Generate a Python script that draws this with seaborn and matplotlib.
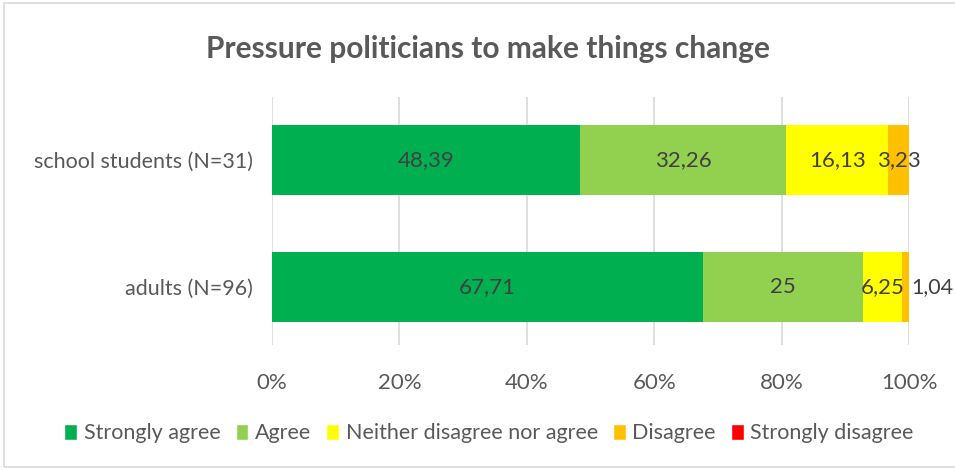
import numpy as np
import pandas as pd
import matplotlib
matplotlib.use("Agg")
import matplotlib.pyplot as plt
from matplotlib.patches import Patch, Rectangle
import seaborn as sns

# -------------------------
# Data (percentages)
# -------------------------
groups = ["school students (N=31)", "adults (N=96)"]
answers = ["Strongly agree", "Agree", "Neither disagree nor agree",
           "Disagree", "Strongly disagree"]
strongly_agree = [48.39, 67.71]
agree = [32.26, 25]
neither = [16.13, 6.25]
disagree = [3.23, 1.04]
strongly_disagree = [0, 0]
colors = ["#00B050", "#92D050", "#FFFF00", "#FFC000", "#FF0000"]

df = pd.DataFrame({
    "group": groups,
    answers[0]: strongly_agree,
    answers[1]: agree,
    answers[2]: neither,
    answers[3]: disagree,
    answers[4]: strongly_disagree,
})
cum = df[answers].cumsum(axis=1)

sns.set_style("white")
plt.rcParams["font.family"] = ["Lato", "DejaVu Sans"]
txt = "#595959"

fig = plt.figure(figsize=(9.55, 4.7), dpi=100)
ax = fig.add_axes([0.2848, 0.266, 0.667, 0.5277])

# draw stacked bars back to front so each layer sits on the previous
for ans, col in reversed(list(zip(answers, colors))):
    sns.barplot(x=cum[ans], y=df["group"], orient="h", color=col,
                width=0.55, saturation=1, ax=ax, linewidth=0)

ax.set_xlim(0, 100)
ax.set_ylim(1.457, -0.496)
ax.set_xticks(np.arange(0, 101, 20))
ax.set_xticklabels([f"{v}%" for v in range(0, 101, 20)])
ax.xaxis.grid(True, color="#D9D9D9", linewidth=1.2)
ax.set_axisbelow(True)
for s in ax.spines.values():
    s.set_visible(False)
ax.set_xlabel("")
ax.set_ylabel("")
ax.tick_params(axis="y", length=0, labelsize=15.5, colors=txt, pad=14)
ax.tick_params(axis="x", length=0, labelsize=16, colors=txt, pad=20)

# data labels
for i in range(len(groups)):
    for ans in answers:
        v = df.loc[i, ans]
        if v == 0:
            continue
        center = cum.loc[i, ans] - v / 2
        label = f"{v:g}".replace(".", ",")
        if ans == "Disagree" and v < 2:
            # small segment: label sits just right of the bar
            ax.annotate(label, (100, i), xytext=(1.5, 0),
                        textcoords="offset points", ha="left", va="center",
                        fontsize=15.5, color="#404040", annotation_clip=False)
        else:
            ax.annotate(label, (center, i), ha="center", va="center",
                        fontsize=16, color="#404040", annotation_clip=False)

fig.suptitle("Pressure politicians to make things change", x=0.511, y=0.925,
             fontsize=21.5, fontweight="bold", color=txt)

handles = [Patch(facecolor=c, label=a) for a, c in zip(answers, colors)]
fig.legend(handles=handles, loc="center", bbox_to_anchor=(0.512, 0.078),
           ncol=5, frameon=False, fontsize=15.5, handlelength=0.6,
           handleheight=0.75, handletextpad=0.3, columnspacing=0.7,
           labelcolor=txt)

# outer chart border (right edge cut off like the original)
fig.patches.append(Rectangle((0.004, 0.006), 1.2, 0.988, transform=fig.transFigure,
                             fill=False, edgecolor="#D9D9D9", linewidth=1.2))

fig.savefig("out.png", dpi=100)
